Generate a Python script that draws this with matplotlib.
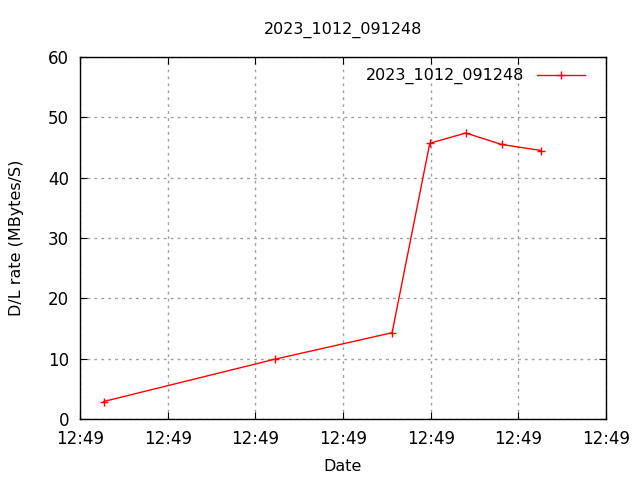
import matplotlib
matplotlib.use("Agg")
import matplotlib.pyplot as plt

# tiempo en segundos desde el inicio del eje (cada marca = 10 s)
segundos = [2.7, 22.2, 35.6, 39.9, 44.0, 48.1, 52.6]
tasa = [2.9, 9.9, 14.3, 45.7, 47.4, 45.5, 44.5]
marcas_x = [0, 10, 20, 30, 40, 50, 60]
etiquetas_x = ["12:49"] * 7
nombre = "2023_1012_091248"

plt.rcParams['font.family'] = ['DejaVu Sans']
fig = plt.figure(figsize=(6.4, 4.8), dpi=100)
ax = fig.add_axes([80/640, 61/480, 526/640, 362/480])

ax.plot(segundos, tasa, color='red', linewidth=1, marker='+', markersize=6,
        markeredgewidth=1, label=nombre)

ax.set_xlim(0, 60)
ax.set_ylim(0, 60)
ax.set_xticks(marcas_x)
ax.set_xticklabels(etiquetas_x)
ax.set_yticks(range(0, 61, 10))
ax.tick_params(direction='in', top=True, right=True, labelsize=12, length=5, pad=8)
ax.grid(True, color='#a0a0a0', linestyle=(0, (2, 3)), linewidth=1)
for s in ax.spines.values():
    s.set_linewidth(1)

ax.set_title(nombre, fontsize=11.5, pad=17)
ax.set_xlabel('Date', fontsize=11.5, labelpad=8)
ax.set_ylabel('D/L rate (MBytes/S)', fontsize=11.5, labelpad=17)

leg = ax.legend(loc='upper right', bbox_to_anchor=(0.981, 1.0), frameon=False,
                fontsize=11.5, markerfirst=False, handlelength=3, borderaxespad=0.3)

fig.savefig('out.png', dpi=100)
